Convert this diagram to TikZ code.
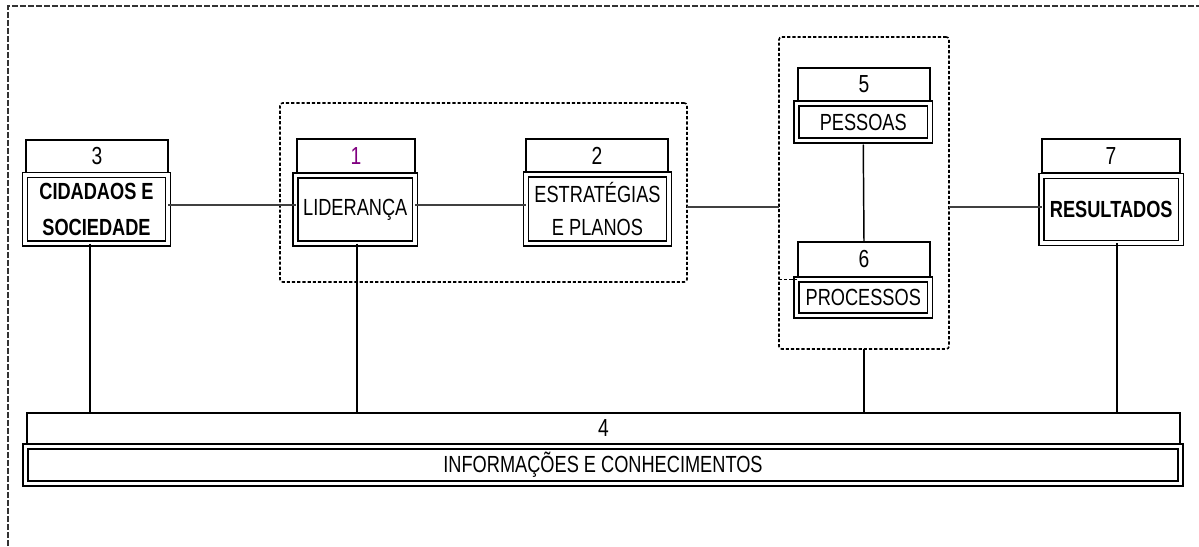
\documentclass[tikz,border=0pt]{standalone}
\usepackage{fontspec}
\setmainfont{Liberation Sans}[FakeStretch=0.78]
\definecolor{numpurple}{RGB}{128,0,128}
\tikzset{
  spanbox/.style args={#1/#2/#3/#4}{at={({(#1+#3)/2},{(#2+#4)/2})}, anchor=center,
    minimum width={(#3-#1)*0.75pt}, minimum height={(#4-#2)*0.75pt}, inner sep=0pt, outer sep=0pt},
  numbox/.style={draw=black, line width=1.25pt, spanbox=#1,
    font=\fontsize{18.5}{20}\selectfont},
  mainbox/.style={draw=black, line width=1.1pt, double=white, double distance=2.6pt,
    spanbox=#1, align=center, font=\fontsize{17.5}{26}\selectfont},
  groupbox/.style={draw=black, line width=1.2pt, dash pattern=on 2.4pt off 1.5pt,
    rounded corners=2pt, spanbox=#1},
  outerframe/.style={draw=black!80, line width=1.3pt, dash pattern=on 4.2pt off 1.8pt},
  hlink/.style={draw=black!75, line width=1.6pt},
  vlink/.style={draw=black, line width=1.1pt},
  dotlink/.style={draw=black, line width=1.2pt, dash pattern=on 2.4pt off 1.5pt},
}
\begin{document}
\begin{tikzpicture}[x=0.75pt,y=-0.75pt]
\useasboundingbox (0,0) rectangle (1199,546);
% outer frame
\draw[outerframe] (8,546) -- (8,6) -- (1199,6);

% groups
\node[groupbox={280/103/687/282}] (g1) {};
\node[groupbox={779/37/949/349}] (g2) {};

% box 3
\node[numbox={26/140/168/173}] (b3n) {3};
\node[mainbox={25/175/168/243.5}, font=\fontsize{17.5}{27}\selectfont\bfseries] (b3m) {CIDADAOS E\\SOCIEDADE};
% box 1
\node[numbox={297/139/415/174}, text=numpurple] (b1n) {1};
\node[mainbox={295.5/175.5/415/243.5}] (b1m) {LIDERANÇA};
% box 2
\node[numbox={526/139/668/172}] (b2n) {2};
\node[mainbox={526/174.5/669/243.5}, font=\fontsize{17.5}{25}\selectfont] (b2m) {ESTRATÉGIAS\\E PLANOS};
% box 5
\node[numbox={798/68/930/101}] (b5n) {5};
\node[mainbox={796.5/103.5/930/140.5}] (b5m) {PESSOAS};
% box 6
\node[numbox={798/242/930/277}] (b6n) {6};
\node[mainbox={796.5/279.5/930/315.5}] (b6m) {PROCESSOS};
% box 7
\node[numbox={1042/139/1180/173}] (b7n) {7};
\node[mainbox={1041.5/176/1181/243}, font=\fontsize{17.5}{26}\selectfont\bfseries] (b7m) {RESULTADOS};
% box 4
\node[numbox={27/413/1180/444}] (b4n) {4};
\node[mainbox={25.5/446.5/1180.5/483.5}] (b4m) {INFORMAÇÕES E CONHECIMENTOS};

% helper coordinates
\coordinate (hya) at (0,205);
\coordinate (hyb) at (0,207);
\coordinate (vxa) at (90,0);
\coordinate (vxb) at (357,0);
\coordinate (vxc) at (864,0);
\coordinate (vxd) at (1117,0);

% horizontal links
\draw[hlink] (b3m.east |- hya) -- (b1m.west |- hya);
\draw[hlink] (b1m.east |- hya) -- (b2m.west |- hya);
\draw[hlink] (g1.east |- hyb) -- (g2.west |- hyb);
\draw[hlink] (g2.east |- hyb) -- (b7m.west |- hyb);

% 5 - 6
\draw[vlink] ([yshift=-3pt]b5m.south) -- (b6n.north);
% dotted stub to 6
\draw[dotlink] (g2.west |- b6m.north west) -- (b6m.north west);

% vertical links to 4
\draw[vlink] (b3m.south -| vxa) -- (b4n.north -| vxa);
\draw[vlink] (b1m.south -| vxb) -- (b4n.north -| vxb);
\draw[vlink] (g2.south -| vxc) -- (b4n.north -| vxc);
\draw[vlink] (b7m.south -| vxd) -- (b4n.north -| vxd);
\end{tikzpicture}
\end{document}
